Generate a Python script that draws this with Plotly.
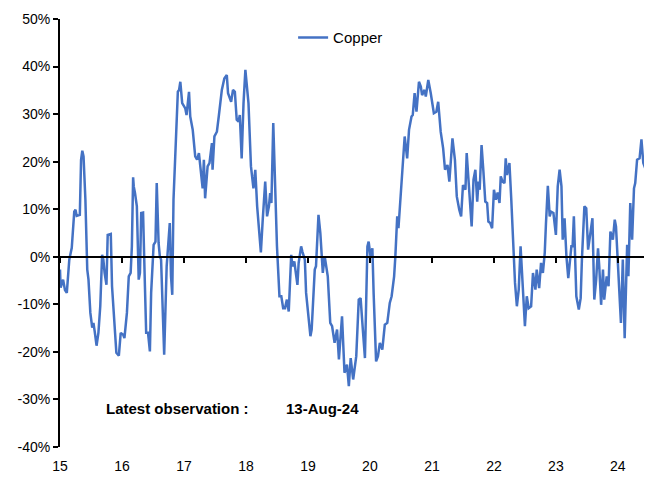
import datetime as dt
import plotly.graph_objects as go

# decimal-year positions and y/y % change
years = [
    2015.00, 2015.01, 2015.05, 2015.08, 2015.11, 2015.15, 2015.19, 2015.23, 2015.25, 2015.27,
    2015.32, 2015.34, 2015.36, 2015.38, 2015.41, 2015.44, 2015.46, 2015.49, 2015.52, 2015.54,
    2015.56, 2015.59, 2015.62, 2015.65, 2015.68, 2015.70, 2015.72, 2015.75, 2015.77, 2015.82,
    2015.84, 2015.88, 2015.91, 2015.95, 2015.98, 2016.02, 2016.04, 2016.08, 2016.11, 2016.14,
    2016.16, 2016.18, 2016.19, 2016.21, 2016.24, 2016.27, 2016.29, 2016.31, 2016.34, 2016.37,
    2016.39, 2016.42, 2016.45, 2016.47, 2016.51, 2016.54, 2016.56, 2016.59, 2016.61, 2016.63,
    2016.68, 2016.72, 2016.74, 2016.77, 2016.79, 2016.81, 2016.83, 2016.87, 2016.90, 2016.92,
    2016.94, 2016.97, 2017.02, 2017.04, 2017.08, 2017.10, 2017.14, 2017.18, 2017.21, 2017.24,
    2017.26, 2017.30, 2017.32, 2017.34, 2017.38, 2017.41, 2017.45, 2017.46, 2017.49, 2017.53,
    2017.56, 2017.61, 2017.65, 2017.69, 2017.71, 2017.76, 2017.79, 2017.82, 2017.85, 2017.88,
    2017.90, 2017.93, 2017.96, 2017.99, 2018.04, 2018.08, 2018.12, 2018.15, 2018.18, 2018.20,
    2018.24, 2018.27, 2018.31, 2018.34, 2018.37, 2018.39, 2018.41, 2018.44, 2018.46, 2018.50,
    2018.54, 2018.57, 2018.60, 2018.63, 2018.66, 2018.69, 2018.73, 2018.75, 2018.78, 2018.81,
    2018.83, 2018.85, 2018.89, 2018.91, 2018.95, 2018.97, 2019.00, 2019.04, 2019.06, 2019.11,
    2019.13, 2019.17, 2019.20, 2019.24, 2019.27, 2019.29, 2019.32, 2019.36, 2019.39, 2019.43,
    2019.47, 2019.50, 2019.55, 2019.59, 2019.63, 2019.66, 2019.69, 2019.73, 2019.78, 2019.82,
    2019.85, 2019.89, 2019.92, 2019.96, 2019.98, 2020.01, 2020.04, 2020.06, 2020.10, 2020.13,
    2020.16, 2020.20, 2020.24, 2020.28, 2020.32, 2020.35, 2020.39, 2020.41, 2020.44, 2020.46,
    2020.50, 2020.51, 2020.54, 2020.56, 2020.60, 2020.63, 2020.67, 2020.69, 2020.72, 2020.75,
    2020.79, 2020.82, 2020.84, 2020.88, 2020.90, 2020.94, 2020.98, 2021.03, 2021.07, 2021.10,
    2021.14, 2021.18, 2021.21, 2021.25, 2021.28, 2021.31, 2021.33, 2021.37, 2021.40, 2021.44,
    2021.47, 2021.50, 2021.54, 2021.56, 2021.60, 2021.64, 2021.67, 2021.70, 2021.73, 2021.75,
    2021.77, 2021.80, 2021.83, 2021.86, 2021.89, 2021.91, 2021.94, 2021.97, 2022.00, 2022.03,
    2022.06, 2022.09, 2022.11, 2022.14, 2022.17, 2022.19, 2022.21, 2022.25, 2022.28, 2022.32,
    2022.34, 2022.37, 2022.40, 2022.43, 2022.46, 2022.50, 2022.53, 2022.56, 2022.60, 2022.63,
    2022.67, 2022.69, 2022.73, 2022.76, 2022.79, 2022.82, 2022.84, 2022.87, 2022.90, 2022.92,
    2022.96, 2023.00, 2023.03, 2023.06, 2023.09, 2023.11, 2023.14, 2023.17, 2023.20, 2023.25,
    2023.27, 2023.29, 2023.33, 2023.37, 2023.40, 2023.42, 2023.46, 2023.49, 2023.52, 2023.55,
    2023.59, 2023.62, 2023.65, 2023.68, 2023.70, 2023.73, 2023.76, 2023.78, 2023.82, 2023.85,
    2023.88, 2023.92, 2023.95, 2023.97, 2024.00, 2024.03, 2024.05, 2024.08, 2024.11, 2024.15,
    2024.17, 2024.20, 2024.23, 2024.26, 2024.28, 2024.31, 2024.35, 2024.38, 2024.41, 2024.45,
    2024.48, 2024.52, 2024.55,
]
copper = [
    -2.7, -6.5, -4.8, -7.0, -7.6, -0.6, 1.9, 9.5, 9.9, 8.6,
    8.8, 20.4, 22.3, 21.1, 12.0, -2.7, -4.8, -11.8, -14.9, -13.9,
    -15.7, -18.7, -16.0, -10.4, 0.4, -0.6, -3.4, -5.9, 4.6, 4.8,
    -6.2, -14.6, -20.2, -20.8, -16.0, -16.4, -17.1, -11.8, -4.1, -3.4,
    2.2, 16.7, 14.8, 13.4, 10.6, -4.8, -3.4, 9.2, 9.3, -6.2,
    -16.0, -16.0, -19.9, -7.6, 2.5, 3.2, 15.5, 2.9, 0.1, -0.6,
    -20.6, -2.0, 1.5, 7.1, -4.1, -8.0, 12.0, 27.4, 34.7, 35.1,
    36.8, 32.3, 31.2, 29.8, 34.7, 29.5, 26.7, 21.1, 20.4, 21.8,
    19.3, 14.4, 20.4, 12.3, 19.0, 19.7, 23.9, 18.3, 25.3, 26.3,
    29.5, 35.1, 37.5, 38.2, 34.4, 32.6, 35.1, 34.7, 28.8, 28.4,
    29.8, 20.7, 32.3, 39.3, 32.3, 19.0, 14.4, 18.3, 10.6, 7.8,
    0.9, 7.8, 15.8, 8.5, 10.6, 13.4, 11.3, 28.1, 19.0, 2.2,
    -8.3, -8.3, -10.8, -10.8, -9.0, -11.5, 0.4, -2.0, -1.0, -3.4,
    -5.9, -1.3, 2.2, 1.1, -0.6, -7.6, -11.8, -16.7, -15.3, -2.7,
    -2.0, 8.8, 5.0, -3.4, 0.1, -1.3, -4.1, -13.9, -14.6, -18.1,
    -15.3, -21.6, -12.5, -24.4, -22.7, -27.2, -21.3, -25.8, -20.9, -9.0,
    -8.7, -16.0, -21.3, 2.2, 3.2, 0.1, 1.8, -7.6, -22.0, -20.9,
    -18.1, -19.5, -14.3, -13.9, -9.7, -8.3, -4.1, 0.1, 8.5, 6.0,
    14.8, 15.5, 23.2, 25.3, 20.7, 26.7, 29.5, 29.8, 34.4, 30.5,
    36.8, 35.8, 34.0, 35.1, 33.7, 37.2, 34.4, 30.2, 30.5, 32.6,
    26.3, 22.8, 18.3, 19.3, 15.8, 20.4, 24.9, 20.4, 12.7, 9.9,
    8.5, 15.1, 14.1, 21.8, 13.4, 6.4, 16.2, 18.3, 11.6, 15.8,
    14.1, 23.5, 17.9, 11.6, 11.3, 7.4, 7.1, 6.0, 14.1, 12.0,
    13.5, 11.3, 16.9, 15.8, 15.5, 20.7, 17.2, 19.7, 12.0, 0.1,
    -5.5, -10.4, -6.9, 2.2, -6.2, -14.6, -8.3, -10.8, -10.4, -3.4,
    -6.9, -2.7, -6.6, -1.3, -3.4, 0.8, 7.1, 14.9, 8.5, 9.5,
    9.2, 4.6, 14.8, 18.3, 14.8, 3.6, 8.1, 0.1, -4.5, 2.2,
    2.2, 8.5, -8.3, -11.1, -8.7, -0.6, 10.6, 10.2, 1.5, 4.6,
    8.1, -9.0, -4.8, 1.8, -2.0, -10.1, -2.7, -9.0, -4.1, -6.2,
    5.3, 3.6, 7.8, 6.4, -0.6, -9.0, -13.9, -0.6, -17.1, 2.5,
    -4.1, 11.3, 3.6, 14.4, 15.5, 20.4, 20.7, 24.7, 19.7, 18.3,
    13.4, 16.5, 7.8,
]
series_name = "Copper"
y_ticks = [-40, -30, -20, -10, 0, 10, 20, 30, 40, 50]
y_tick_labels = ["-40%", "-30%", "-20%", "-10%", "0%", "10%", "20%", "30%", "40%", "50%"]
latest_label = "Latest observation :"
latest_date = "13-Aug-24"


def to_date(y):
    yr = int(y)
    start = dt.datetime(yr, 1, 1)
    end = dt.datetime(yr + 1, 1, 1)
    return start + (end - start) * (y - yr)


dates = [to_date(y) for y in years]
x_start = to_date(2015.0)
x_end = dates[-1]

FONT = "Liberation Sans, Arial, sans-serif"
BLUE = "#4472C4"

fig = go.Figure()
fig.add_trace(go.Scatter(
    x=dates, y=copper, mode="lines", name=series_name,
    line=dict(color=BLUE, width=2.5),
))
# helper trace for the zero-line axis carrying the year ticks
fig.add_trace(go.Scatter(
    x=[x_start, x_end], y=[0, 0], xaxis="x2", mode="lines",
    line=dict(width=0), showlegend=False, hoverinfo="skip",
))

# the page body adds an 8px offset, so the figure is sized to compensate
fig.update_layout(
    width=644, height=471,
    margin=dict(l=52, r=0, t=11, b=32),
    paper_bgcolor="white", plot_bgcolor="white",
    font=dict(family=FONT, size=14, color="#000000"),
    showlegend=True,
    legend=dict(x=0.474, y=0.995, xanchor="center", yanchor="top",
                bgcolor="rgba(0,0,0,0)", font=dict(size=15, family=FONT)),
    xaxis=dict(
        type="date", range=[x_start, x_end],
        tick0="2015-01-01", dtick="M12", tickformat="%y",
        showgrid=False, zeroline=False, showline=False, ticks="",
        tickfont=dict(size=14, family=FONT), ticklabelstandoff=9,
    ),
    xaxis2=dict(
        type="date", range=[x_start, x_end], overlaying="x",
        anchor="free", position=40 / 90, side="bottom",
        tick0="2015-01-01", dtick="M12",
        showticklabels=False, showgrid=False, zeroline=False,
        showline=True, linecolor="black", linewidth=2,
        ticks="outside", ticklen=5, tickwidth=2, tickcolor="black",
    ),
    yaxis=dict(
        range=[-40, 50], tickvals=y_ticks, ticktext=y_tick_labels,
        showgrid=False, zeroline=False,
        showline=True, linecolor="black", linewidth=2,
        ticks="outside", ticklen=5, tickwidth=2, tickcolor="black",
        tickfont=dict(size=14, family=FONT),
    ),
    annotations=[
        dict(xref="paper", yref="paper", x=0.075, y=0.091, xanchor="left", yanchor="middle",
             text="<b>" + latest_label + "</b>", showarrow=False,
             font=dict(size=15, family=FONT)),
        dict(xref="paper", yref="paper", x=0.378, y=0.091, xanchor="left", yanchor="middle",
             text="<b>" + latest_date + "</b>", showarrow=False,
             font=dict(size=15, family=FONT)),
    ],
)

fig.write_html("out.html")
